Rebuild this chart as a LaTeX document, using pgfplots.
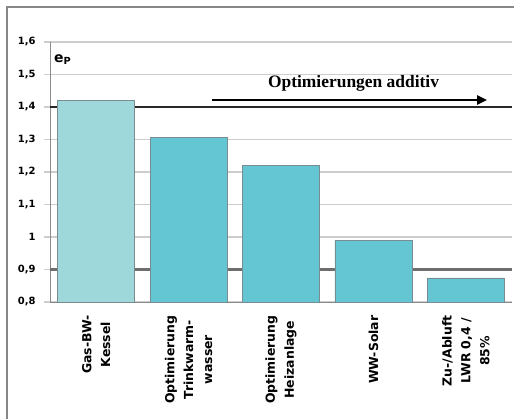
\documentclass[border=0pt]{standalone}
\usepackage{fontspec}
\setmainfont{DejaVu Sans}
\newfontfamily\serifb{Liberation Serif}
\usepackage{pgfplots}
\pgfplotsset{compat=1.18}
\usetikzlibrary{arrows.meta}

\definecolor{barlight}{RGB}{158,216,219}
\definecolor{barteal}{RGB}{99,198,210}
\definecolor{baredge}{RGB}{120,140,145}
\definecolor{framegray}{RGB}{135,135,135}
\definecolor{gridgray}{RGB}{205,205,205}
\definecolor{axgray}{RGB}{140,140,140}

\begin{document}
\begin{tikzpicture}[x=1bp,y=1bp]
\draw[framegray, line width=1.5bp] (7,0) -- (7,412) -- (514,412);
\begin{axis}[
    at={(50bp,117bp)}, anchor=south west,
    scale only axis, width=462bp, height=260bp,
    xmin=-0.5, xmax=4.5, ymin=0.8, ymax=1.6,
    axis x line*=bottom, axis y line*=left,
    axis line style={draw=axgray, line width=1bp},
    ytick={0.8,0.9,1.0,1.1,1.2,1.3,1.4,1.5,1.6},
    ymajorgrids, grid style={gridgray, line width=1.2bp},
    tick align=outside, major tick length=6bp,
    y tick style={gridgray, line width=1.2bp},
    yticklabel style={font=\fontsize{10}{12}\selectfont\bfseries,
        /pgf/number format/.cd, use comma, fixed, precision=1, assume math mode=true},
    yticklabel shift=5bp,
    xtick={0,1,2,3,4},
    xticklabels={{Gas-BW-\\Kessel},{Optimierung\\Trinkwarm-\\wasser},{Optimierung\\Heizanlage},{WW-Solar},{Zu-/Abluft\\LWR 0,4 /\\85\%}},
    x tick style={draw=none},
    xticklabel style={font=\fontsize{12.5}{19}\selectfont\bfseries, rotate=90, anchor=east, align=center},
    xticklabel shift=4bp,
    extra x ticks={-0.5,0.5,1.5,2.5,3.5,4.5}, extra x tick labels={},
    extra x tick style={major tick length=3bp, tick style={draw=axgray, line width=0.8bp}},
]
% reference lines behind the bars
\addplot[sharp plot, draw={rgb,255:red,40;green,40;blue,40}, line width=1.3bp, forget plot] coordinates {(-0.5,1.4) (4.5,1.4)};
\addplot[sharp plot, draw={rgb,255:red,110;green,110;blue,110}, line width=2.2bp, forget plot] coordinates {(-0.5,0.9) (4.5,0.9)};

\addplot[ybar, bar width=77bp, bar shift=0pt, fill=barlight, draw=baredge, line width=0.6bp] coordinates {(0,1.42)};
\addplot[ybar, bar width=77bp, bar shift=0pt, fill=barteal, draw=baredge, line width=0.6bp] coordinates {(1,1.306) (2,1.22) (3,0.99) (4,0.874)};

\draw[-{Triangle[length=10bp,width=9bp]}, line width=2.4bp] (axis cs:1.253,1.4215) -- (axis cs:4.23,1.4215);
\node[anchor=base, inner sep=0, font=\fontsize{17.5}{19}\selectfont\serifb\bfseries] at (axis cs:2.785,1.4615) {Optimierungen additiv};
\node[anchor=base west, inner sep=0, font=\fontsize{14}{16}\selectfont\bfseries] at (axis cs:-0.457,1.538) {e\textsubscript{P}};
\end{axis}
\pgfresetboundingbox
\useasboundingbox (0,0) rectangle (514,419);
\end{tikzpicture}
\end{document}
